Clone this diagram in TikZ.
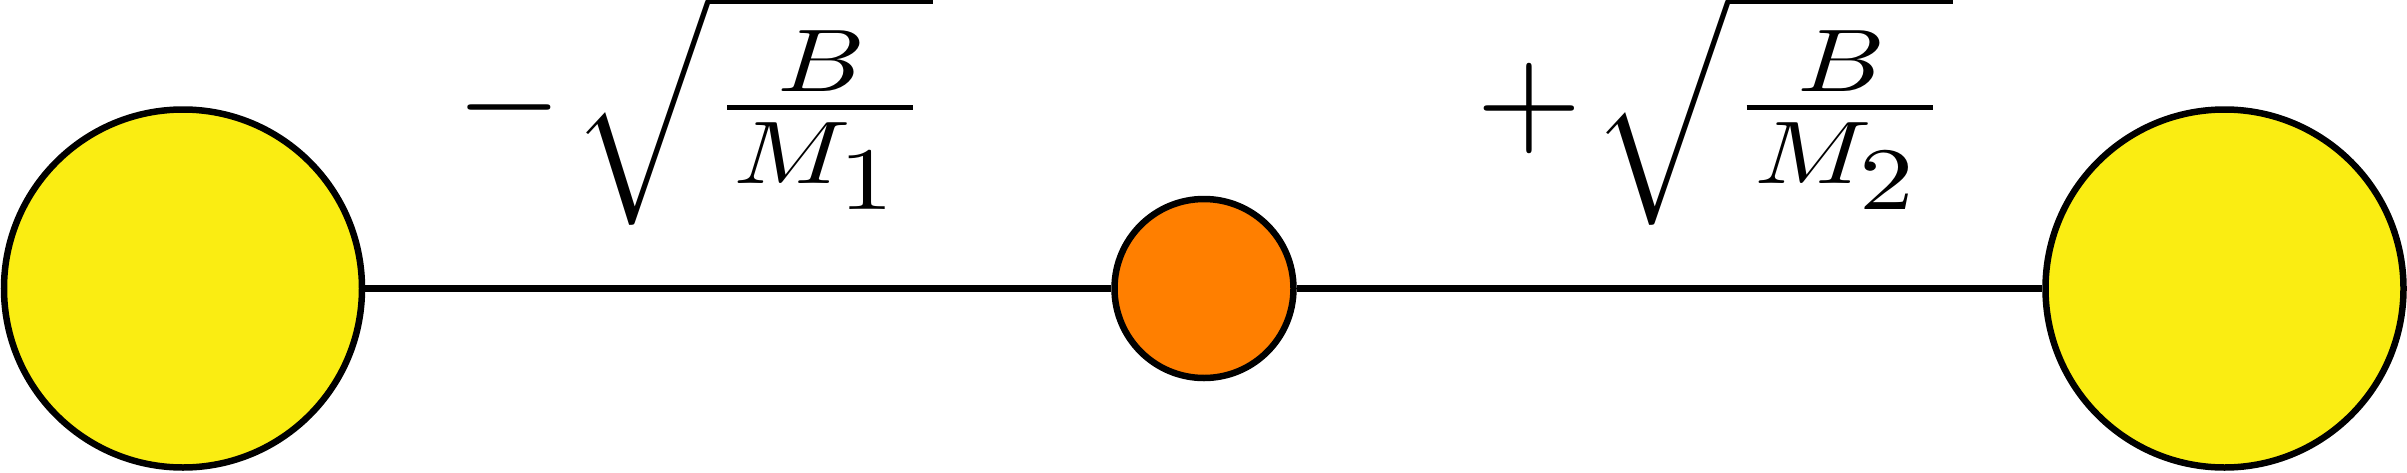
\documentclass[tikz,border=0pt]{standalone}
\usepackage{graphicx}
\definecolor{ballyellow}{RGB}{250,237,18}
\definecolor{ballorange}{RGB}{255,127,0}
\tikzset{
  ball/.style={circle, draw=black, line width=6.5pt, inner sep=0pt},
  bigball/.style={ball, fill=ballyellow, minimum size=358pt},
  smallball/.style={ball, fill=ballorange, minimum size=179pt},
  rod/.style={draw=black, line width=6.5pt},
  bar/.style={draw=black, line width=5pt},
  lbl/.style={inner sep=0pt, outer sep=0pt, font=\normalsize},
  rad/.style={lbl, anchor=north west}
}
% letters: 8.9x vertical, 1.225 wider horizontally
\newcommand{\xs}[1]{\scalebox{10.9}[8.9]{#1}}
% signs
\newcommand{\sgnbox}[1]{\scalebox{13.6}{#1}}
% radical sign with its overline
\newcommand{\radsign}{\scalebox{13.7}[9.4]{$\sqrt{\vphantom{\rule[-7pt]{0pt}{20pt}}\hspace{16.39pt}}$}}
\begin{document}
\begin{tikzpicture}[x=1pt,y=-1pt]
\useasboundingbox (0,0) rectangle (2407,472);
% balls
\node[bigball] (L) at (183,288.5) {};
\node[smallball] (O) at (1204,288.5) {};
\node[bigball] (R) at (2224.5,288.5) {};
\draw[rod] (L) -- (O);
\draw[rod] (O) -- (R);
% left formula
\node[lbl] (minus) at (509,107) {\sgnbox{$-$}};
\node[rad] (radL) at (571.5,-3.8) {\radsign};
\node[lbl, anchor=base west] (BL) at (777.7,91) {\xs{$B$}};
\coordinate (barLa) at (727,107);
\coordinate (barLb) at (913,107);
\draw[bar] (barLa) -- (barLb);
\node[lbl, anchor=base west] (ML) at (733.7,183) {\xs{$M_{\textstyle 1}$}};
% right formula
\node[lbl] (plus) at (1529.5,108) {\sgnbox{$+$}};
\node[rad] (radR) at (1591.5,-3.8) {\radsign};
\node[lbl, anchor=base west] (BR) at (1797.4,91) {\xs{$B$}};
\coordinate (barRa) at (1746.7,107);
\coordinate (barRb) at (1932.7,107);
\draw[bar] (barRa) -- (barRb);
\node[lbl, anchor=base west] (MR) at (1754,183) {\xs{$M_{\textstyle 2}$}};
\end{tikzpicture}
\end{document}
